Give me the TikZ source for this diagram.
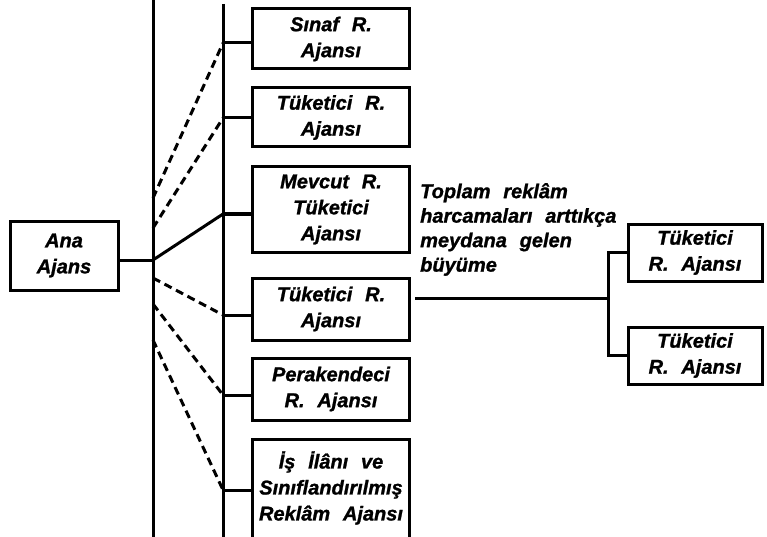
\documentclass[tikz,border=0pt]{standalone}
\usepackage{fontspec}
\setmainfont{Liberation Sans}[WordSpace=2.3, BoldItalicFeatures={FakeBold=1.2}]
\begin{document}
\begin{tikzpicture}[x=1pt,y=-1pt,
  every node/.style={font=\fontsize{20}{26}\selectfont\bfseries\itshape},
  agency/.style={draw, line width=3pt, inner sep=0pt, align=center},
  link/.style={line width=3pt},
  dotlink/.style={line width=3pt, dash pattern=on 8pt off 5pt},
  ]
\useasboundingbox (0,0) rectangle (767,537);

% two vertical rails
\coordinate (top1) at (153,0);
\coordinate (bot1) at (153,540);
\coordinate (top2) at (223,4);
\coordinate (bot2) at (223,540);
\draw[link] (top1) -- (bot1);
\draw[link] (top2) -- (bot2);

% parent agency
\node[agency, minimum width=108pt, minimum height=69pt] (ana) at (64,255.5) {Ana\\Ajans};
\coordinate (hub) at (153,260);
\draw[link] (hub -| ana.east) -- (hub);

% agency boxes on the second rail
\node[agency, minimum width=157pt, minimum height=60pt] (b1) at (331,39) {Sınaf R.\\Ajansı};
\node[agency, minimum width=157pt, minimum height=59pt] (b2) at (331,117.5) {Tüketici R.\\Ajansı};
\node[agency, minimum width=157pt, minimum height=85pt] (b3) at (331,209.5) {Mevcut R.\\Tüketici\\Ajansı};
\node[agency, minimum width=157pt, minimum height=62pt] (b4) at (331,309) {Tüketici R.\\Ajansı};
\node[agency, minimum width=157pt, minimum height=62pt] (b5) at (331,389) {Perakendeci\\R. Ajansı};
\node[inner sep=0pt, align=center, minimum width=157pt, minimum height=96pt] (b6) at (331,488)
  {İş İlânı ve\\Sınıflandırılmış\\Reklâm Ajansı};
\draw[link] ([yshift=-14pt]b6.south west) -- (b6.north west) -- (b6.north east) -- ([yshift=-14pt]b6.south east);

% junctions on the second rail
\coordinate (j1) at (223,43);
\coordinate (j2) at (223,118);
\coordinate (j3) at (223,214);
\coordinate (j4) at (223,315);
\coordinate (j5) at (223,395);
\coordinate (j6) at (223,490);
\foreach \i in {1,...,6}{
  \draw[link] (j\i) -- (j\i -| b\i.west);
}

% links from the first rail
\coordinate (s1) at (153,198);
\coordinate (s2) at (153,228);
\coordinate (s4) at (153,278);
\coordinate (s5) at (153,304);
\coordinate (s6) at (153,340);
\draw[dotlink] (s1) -- (j1);
\draw[dotlink] (s2) -- (j2);
\draw[link] (hub) -- (j3);
\draw[dotlink] (s4) -- (j4);
\draw[dotlink] (s5) -- (j5);
\draw[dotlink] (s6) -- (j6);

% growth branch
\node[anchor=north west, inner sep=0pt, align=left,
  font=\fontsize{20}{24.5}\selectfont\bfseries\itshape] (growth) at (420,183)
  {Toplam reklâm\\harcamaları arttıkça\\meydana gelen\\büyüme};
\node[agency, minimum width=134pt, minimum height=57pt] (r1) at (695,252.5) {Tüketici\\R. Ajansı};
\node[agency, minimum width=134pt, minimum height=57pt] (r2) at (695,355.5) {Tüketici\\R. Ajansı};
\coordinate (g0) at (415,298);
\coordinate (fork) at (608,298);
\draw[link] (g0) -- (fork);
\draw[link] (r1.west) -| (fork) |- (r2.west);
\end{tikzpicture}
\end{document}
